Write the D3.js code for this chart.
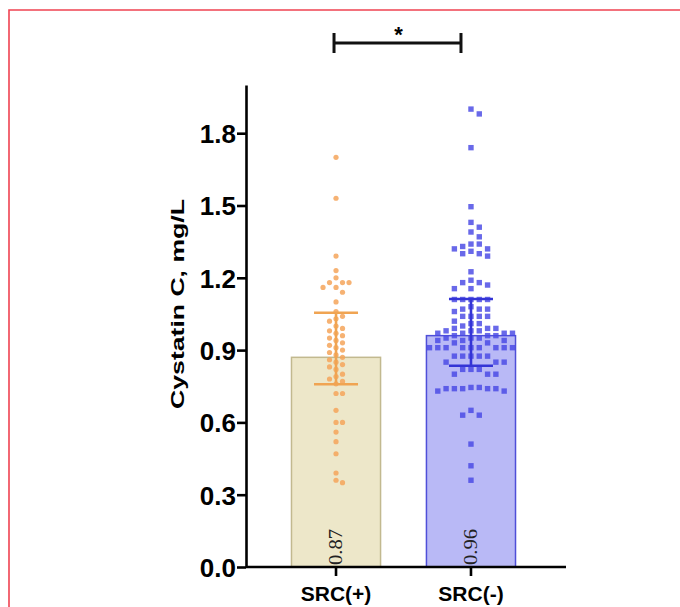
<!DOCTYPE html>
<html><head><meta charset="utf-8">
<script src="https://cdn.jsdelivr.net/npm/d3@7"></script>
<style>body{margin:0;background:#fff}svg{display:block}</style>
</head><body>
<svg id="c" width="680" height="607"></svg>
<script>
const categories = ["SRC(+)", "SRC(-)"];
const means = [0.87, 0.96];
const errLow = [0.758, 0.835];
const errHigh = [1.055, 1.112];
const meanLabels = ["0.87", "0.96"];
const yTicks = [0.0, 0.3, 0.6, 0.9, 1.2, 1.5, 1.8];
const srcPos = [1.70, 1.53, 1.29, 1.23, 1.20, 1.18, 1.18, 1.18, 1.16, 1.16, 1.14, 1.10,
  1.06, 1.04, 1.03, 1.02, 1.00, 0.99, 0.98, 0.97, 0.96, 0.95, 0.94, 0.93, 0.92, 0.91,
  0.90, 0.89, 0.88, 0.87, 0.86, 0.85, 0.84, 0.83, 0.82, 0.80, 0.79, 0.78, 0.77, 0.76,
  0.72, 0.72, 0.65, 0.60, 0.60, 0.56, 0.52, 0.47, 0.39, 0.36, 0.35];
const srcNeg = [1.90, 1.88, 1.74, 1.495, 1.43, 1.41, 1.39, 1.37, 1.34, 1.33, 1.32, 1.31,
  1.30, 1.34, 1.32, 1.30, 1.29, 1.225, 1.18, 1.18, 1.19, 1.17, 1.155, 1.155,
  1.11, 1.11, 1.11, 1.11, 1.11, 1.07, 1.07, 1.07, 1.08, 1.06, 1.04, 1.04, 1.04, 1.04,
  1.01, 1.01, 1.02, 0.97, 0.97, 0.97, 0.97, 1.00, 0.99, 0.98, 0.96, 0.95, 0.99, 0.98,
  0.96, 0.95, 0.94, 0.93, 0.99, 0.98, 0.96, 0.95, 0.94, 0.93, 0.94,
  0.91, 0.91, 0.91, 0.91, 0.91, 0.91, 0.91, 0.91, 0.91,
  0.875, 0.875, 0.875, 0.875, 0.875, 0.85, 0.85, 0.85, 0.82, 0.82, 0.82, 0.80, 0.80, 0.80,
  0.74, 0.74, 0.73, 0.74, 0.745, 0.745, 0.73, 0.74, 0.74,
  0.65, 0.63, 0.63, 0.51, 0.42, 0.36];

const svg = d3.select("#c");
const y = d3.scaleLinear().domain([0, 2.0]).range([567, 85]);
const x = d3.scaleBand().domain(categories).range([246, 561]).paddingInner(0.34).paddingOuter(0.337);

// red frame
svg.append("path").attr("d", "M9,607 V10 H680").attr("fill", "none").attr("stroke", "#ef4352").attr("stroke-width", 1.6);

const barFill = ["#ede7c9", "#b9b9f6"];
const barStroke = ["#c2b98f", "#4f4fd8"];
const errColor = ["#f0a452", "#3434d6"];
const dotColor = ["#f4a55a", "#4848e4"];

svg.selectAll("rect.bar").data(categories).join("rect").attr("class", "bar")
  .attr("x", d => x(d)).attr("width", x.bandwidth())
  .attr("y", (d, i) => y(means[i])).attr("height", (d, i) => y(0) - y(means[i]))
  .attr("fill", (d, i) => barFill[i]).attr("stroke", (d, i) => barStroke[i]).attr("stroke-width", 1.5);

// beeswarm
function swarm(vals, cx, d, step) {
  const sorted = vals.map((v, i) => ({v, i})).sort((a, b) => b.v - a.v);
  const placed = [];
  sorted.forEach(p => {
    const py = y(p.v);
    for (let k = 0; k < 40; k++) {
      const off = k === 0 ? 0 : (k % 2 ? 1 : -1) * Math.ceil(k / 2) * step;
      const px = cx + off;
      if (!placed.some(q => Math.abs(q.x - px) < d && Math.abs(q.y - py) < d)) {
        placed.push({x: px, y: py, v: p.v});
        break;
      }
    }
  });
  return placed;
}
const c0 = x(categories[0]) + x.bandwidth() / 2;
const c1 = x(categories[1]) + x.bandwidth() / 2;
const pts0 = swarm(srcPos, c0, 6, 6.5);
const pts1 = swarm(srcNeg, c1, 7, 8.3);

svg.append("g").selectAll("circle").data(pts0).join("circle")
  .attr("cx", d => d.x).attr("cy", d => d.y).attr("r", 2.6)
  .attr("fill", dotColor[0]).attr("opacity", 0.85);
svg.append("g").selectAll("rect").data(pts1).join("rect")
  .attr("x", d => d.x - 2.7).attr("y", d => d.y - 2.7).attr("width", 5.4).attr("height", 5.4)
  .attr("fill", dotColor[1]).attr("opacity", 0.82);

// error bars
categories.forEach((c, i) => {
  const cx = x(c) + x.bandwidth() / 2;
  const g = svg.append("g").attr("stroke", errColor[i]).attr("stroke-width", 2.6);
  g.append("line").attr("x1", cx).attr("x2", cx).attr("y1", y(errLow[i])).attr("y2", y(errHigh[i]));
  [errLow[i], errHigh[i]].forEach(v => g.append("line").attr("x1", cx - 22).attr("x2", cx + 22).attr("y1", y(v)).attr("y2", y(v)));
  svg.append("text").attr("transform", `translate(${cx + 6},565) rotate(-90) scale(1.15,1)`)
    .attr("font-family", "Liberation Serif, Times New Roman, serif").attr("font-size", 18)
    .attr("fill", "#222").text(meanLabels[i]);
});

// axes
const yAxis = svg.append("g").attr("transform", "translate(246,0)")
  .call(d3.axisLeft(y).tickValues(yTicks).tickFormat(d3.format(".1f")).tickSize(9).tickSizeOuter(0));
yAxis.select(".domain").attr("stroke-width", 2.6);
yAxis.selectAll(".tick line").attr("stroke-width", 2.6);
yAxis.selectAll(".tick text").attr("font-family", "Liberation Sans, Arial, sans-serif")
  .attr("font-weight", "bold").attr("font-size", 26).attr("fill", "#000").attr("x", -10).attr("dy", "0.36em");

const xAxis = svg.append("g").attr("transform", "translate(0,567)")
  .call(d3.axisBottom(x).tickSize(9).tickSizeOuter(0));
xAxis.select(".domain").attr("d", "M246,0H566").attr("stroke-width", 2.6);
xAxis.selectAll(".tick line").attr("stroke-width", 2.6);
xAxis.selectAll(".tick text").attr("font-family", "Liberation Sans, Arial, sans-serif")
  .attr("font-weight", "bold").attr("font-size", 21).attr("fill", "#000").attr("y", 19);

svg.append("text").attr("transform", "translate(184,304) rotate(-90) scale(1.4,1)")
  .attr("text-anchor", "middle").attr("font-family", "Liberation Sans, Arial, sans-serif")
  .attr("font-weight", "bold").attr("font-size", 19).text("Cystatin C, mg/L");

// significance bracket
const b0 = c0 - 2, b1 = c1 - 10;
const br = svg.append("g").attr("stroke", "#111").attr("stroke-width", 3);
br.append("line").attr("x1", b0).attr("x2", b1).attr("y1", 43).attr("y2", 43);
br.append("line").attr("x1", b0).attr("x2", b0).attr("y1", 33).attr("y2", 53);
br.append("line").attr("x1", b1).attr("x2", b1).attr("y1", 33).attr("y2", 53);
svg.append("text").attr("x", (b0 + b1) / 2 + 1).attr("y", 42).attr("text-anchor", "middle")
  .attr("font-family", "Liberation Sans, Arial, sans-serif").attr("font-weight", "bold").attr("font-size", 22).text("*");
</script>
</body></html>
